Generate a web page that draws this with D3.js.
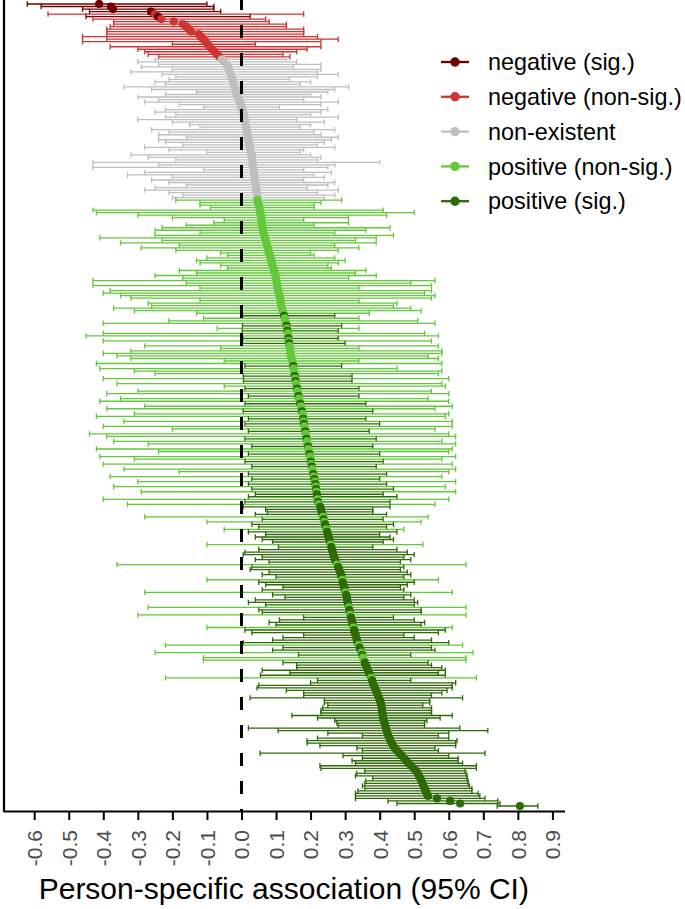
<!DOCTYPE html>
<html>
<head>
<meta charset="utf-8">
<script src="https://cdnjs.cloudflare.com/ajax/libs/d3/7.8.5/d3.min.js"></script>
<style>
  body { margin: 0; background: #fff; }
  svg { display: block; }
</style>
</head>
<body>
<div id="chart"></div>
<script>
const categories = ["negative (sig.)", "negative (non-sig.)", "non-existent", "positive (non-sig.)", "positive (sig.)"];
const xTicks = [-0.6, -0.5, -0.4, -0.3, -0.2, -0.1, 0.0, 0.1, 0.2, 0.3, 0.4, 0.5, 0.6, 0.7, 0.8, 0.9];

// one entry per person, sorted by estimate (top row first)
const estimate = [
  -.412,-.378,-.372,-.262,-.250,-.242,-.232,-.196,-.170,-.160,-.152,-.146,-.124,-.118,-.110,-.104,-.098,-.092,-.085,-.078,-.071,-.064,
  -.057,-.050,-.044,-.039,-.036,-.034,-.031,-.029,-.026,-.024,-.022,-.020,-.018,-.016,-.013,-.011,-.008,-.005,-.002,0.000,
  .003,.005,.007,.008,.010,.011,.012,.014,.015,.017,.018,.019,.020,.022,.023,.024,.026,.027,.029,.030,
  .031,.032,.033,.034,.035,.036,.037,.038,.039,.040,.041,.042,.043,.044,.045,.046,
  .046,.048,.050,.052,.053,.055,.056,.057,.058,.059,.060,.061,.062,.064,.066,.068,.070,.072,.074,.076,
  .078,.080,.082,.084,.086,.088,.090,.092,.094,.096,.098,.100,.101,.102,.103,.104,.106,.108,.110,.112,
  .113,.114,.115,.117,.119,.121,
  .123,.125,.127,.129,.131,.132,.133,.134,.135,.136,.137,.138,.139,.140,.141,.142,.143,.145,.147,.149,
  .150,.151,.152,.153,.154,.155,.157,
  .158,.160,.161,.162,.164,.165,.167,.169,.170,.172,.174,.175,.177,.178,.179,.180,.181,.182,.183,.185,
  .186,.187,.188,.190,.191,.193,.194,.195,.197,.199,.200,.201,.202,.204,.205,.207,.208,.209,.211,.213,
  .214,.215,.216,.217,.218,.219,.220,.222,.224,.228,.230,.232,.234,.236,.238,.240,.242,.244,.246,.248,
  .250,.252,.254,.256,.258,.260,.262,.264,.266,.268,.271,.274,.277,.280,.283,.286,.288,.290,.292,.293,
  .295,.297,.299,.301,.303,.305,.306,.307,.309,.311,.312,.314,.315,.317,.319,.321,.322,.324,.326,.328,
  .330,.332,.334,.336,.339,.342,.345,.348,.350,.352,.355,.357,.360,.363,.366,.369,.372,.375,.378,
  .380,.383,.386,.389,.392,.395,.398,.401,.403,.405,.406,.407,.408,.409,.410,.412,.414,.416,.418,.420,
  .422,.425,.428,.431,.435,.439,.444,.450,.457,.464,.471,.477,.484,.491,.498,.505,.510,.514,.518,.521,
  .524,.527,.530,.533,.536,.540,.566,.604,.633,.806
];
const lower = [
  -.62,-.58,-.46,-.44,-.56,-.45,-.43,-.37,-.37,-.38,-.39,-.39,-.39,-.46,-.39,-.46,-.20,-.38,-.30,-.28,-.27,-.24,
  -.25,-.30,-.24,-.29,-.20,-.32,-.23,-.19,-.21,-.25,-.22,-.34,-.26,-.13,-.22,-.30,-.24,-.28,-.18,-.11,
  -.22,-.25,-.19,-.22,-.30,-.20,-.15,-.12,-.26,-.21,-.24,-.16,-.24,-.22,-.17,-.28,-.21,-.10,-.32,-.27,
  -.19,-.43,-.24,-.43,-.11,-.28,-.33,-.20,-.26,-.21,-.16,-.25,-.28,-.21,-.17,-.20,
  -.19,-.12,-.12,-.09,-.43,-.42,-.30,-.20,-.05,-.08,-.16,-.23,-.25,-.12,-.25,-.41,-.23,-.35,-.18,-.29,
  -.19,-.06,-.04,-.10,-.13,-.12,-.06,-.04,-.18,-.13,-.25,-.17,-.43,-.16,-.43,-.12,-.38,-.40,-.35,-.32,
  -.12,-.27,-.26,-.37,-.31,-.13,
  .003,-.11,-.21,-.40,.003,-.07,.002,-.40,-.45,.004,-.40,.002,-.28,-.06,-.32,-.40,-.36,-.32,-.05,-.42,
  .01,-.41,-.31,-.25,.005,-.40,.006,
  -.36,-.05,.01,-.30,-.39,.02,-.35,-.41,.01,-.28,-.39,.005,-.31,-.42,.02,-.34,.01,-.40,-.20,.02,
  -.44,-.39,.01,-.37,-.27,.03,-.42,-.24,.02,-.41,-.31,.01,-.40,.03,-.34,-.18,.02,-.38,.03,-.30,
  .02,-.37,.03,-.29,.04,.02,-.40,.01,-.33,.005,.07,.075,.04,-.28,.06,-.10,.03,.05,-.05,.02,
  .07,.04,.06,.09,-.10,.107,.05,.01,.005,.06,.04,.08,-.36,.03,.025,.08,.06,.10,-.10,.05,
  .07,.12,.06,-.28,.09,.126,.04,.02,.07,-.27,.05,.06,-.30,.18,.11,.08,.10,-.10,.01,.03,
  .18,.12,.09,.005,-.22,.12,.09,-.25,.165,-.11,-.11,.12,.16,.16,.06,.14,.055,-.22,.22,
  .20,.05,.045,.13,.18,.18,.025,.24,.24,.25,.235,.23,.23,.146,.22,.27,.276,.28,.02,.106,
  .25,.35,.22,.19,.19,.227,.334,.35,.054,.294,.35,.32,.33,.227,.23,.357,.334,.33,.38,.36,
  .357,.35,.357,.337,.33,.33,.33,.424,.45,.74
];
const upper = [
  -.10,-.08,-.08,-.06,.18,.025,.07,.08,.13,.13,.18,.18,.18,.22,.28,.23,.04,.23,.19,.16,.12,.14,
  .13,.16,.23,.15,.23,.22,.28,.22,.14,.20,.17,.31,.27,.25,.20,.23,.18,.28,.23,.11,
  .25,.23,.20,.28,.16,.24,.20,.17,.27,.21,.23,.28,.26,.24,.22,.27,.18,.17,.20,.23,
  .22,.40,.27,.25,.18,.26,.21,.24,.18,.27,.25,.19,.28,.22,.27,.24,
  .29,.23,.21,.21,.41,.50,.42,.31,.18,.31,.21,.43,.36,.27,.44,.39,.33,.39,.27,.34,
  .28,.20,.21,.27,.30,.28,.25,.26,.36,.33,.39,.31,.56,.49,.55,.34,.55,.53,.56,.55,
  .34,.45,.44,.49,.52,.37,
  .27,.34,.51,.56,.29,.34,.28,.53,.57,.28,.55,.30,.57,.34,.58,.58,.54,.57,.34,.58,
  .29,.45,.58,.57,.32,.60,.32,
  .58,.59,.34,.55,.60,.34,.54,.60,.36,.61,.56,.38,.60,.59,.36,.61,.40,.61,.56,.37,
  .60,.62,.39,.58,.62,.38,.61,.60,.40,.62,.58,.41,.61,.39,.62,.60,.42,.58,.40,.62,
  .42,.59,.44,.62,.41,.45,.60,.43,.56,.43,.38,.38,.42,.54,.41,.52,.44,.42,.47,.45,
  .40,.43,.44,.41,.525,.38,.45,.48,.50,.47,.49,.46,.65,.47,.46,.48,.49,.47,.57,.50,
  .48,.46,.47,.61,.49,.47,.50,.51,.50,.65,.52,.52,.65,.44,.50,.53,.52,.61,.59,.57,
  .47,.50,.55,.60,.64,.55,.56,.67,.49,.65,.65,.54,.55,.58,.59,.57,.59,.68,.49,
  .62,.61,.61,.595,.58,.55,.64,.545,.545,.525,.55,.55,.55,.61,.575,.537,.53,.53,.632,.713,
  .60,.57,.60,.624,.62,.62,.56,.57,.705,.60,.627,.627,.64,.68,.68,.647,.65,.653,.653,.656,
  .656,.66,.667,.667,.685,.69,.705,.742,.748,.858
];
// index into categories
const group = [
  0,0,0,0,1,0,1,1,1,1,1,1,1,1,1,1,1,1,1,1,1,1,
  2,2,2,2,2,2,2,2,2,2,2,2,2,2,2,2,2,2,2,2,
  2,2,2,2,2,2,2,2,2,2,2,2,2,2,2,2,2,2,2,2,
  2,2,2,2,2,2,2,2,2,2,2,2,2,2,2,2,
  3,3,3,3,3,3,3,3,3,3,3,3,3,3,3,3,3,3,3,3,
  3,3,3,3,3,3,3,3,3,3,3,3,3,3,3,3,3,3,3,3,
  3,3,3,3,3,3,
  4,3,3,3,4,3,4,3,3,4,3,4,3,3,3,3,3,3,3,3,
  4,3,3,3,4,3,4,
  3,3,4,3,3,4,3,3,4,3,3,4,3,3,4,3,4,3,3,4,
  3,3,4,3,3,4,3,3,4,3,3,4,3,4,3,3,4,3,4,3,
  4,3,4,3,4,4,3,4,3,4,4,4,4,3,4,3,4,4,3,4,
  4,4,4,4,3,4,4,4,4,4,4,4,3,4,4,4,4,4,3,4,
  4,4,4,3,4,4,4,4,4,3,4,4,3,4,4,4,4,3,4,4,
  4,4,4,4,3,4,4,3,4,3,3,4,4,4,4,4,4,3,4,
  4,4,4,4,4,4,4,4,4,4,4,4,4,4,4,4,4,4,4,4,
  4,4,4,4,4,4,4,4,4,4,4,4,4,4,4,4,4,4,4,4,
  4,4,4,4,4,4,4,4,4,4
];

const width = 685;
const height = 909;
const FONT = '"Liberation Sans", Arial, Helvetica, sans-serif';
const colors = ["#700000", "#d03333", "#bfbfbf", "#63c83a", "#2e6a06"];

const rows = estimate.map((e, i) => ({i: i, est: e, lo: lower[i], hi: upper[i], g: group[i]}));

const x = d3.scaleLinear().domain([-0.69, 0.935]).range([3.1, 564.5]);
const y = d3.scalePoint().domain(d3.range(rows.length)).range([4, 806]);

const svg = d3.select('#chart').append('svg')
  .attr('width', width).attr('height', height)
  .style('font-family', FONT);

// error bars
const cap = 2.7;
svg.append('g')
  .attr('fill', 'none')
  .attr('stroke-width', 1.3)
  .selectAll('path').data(rows).join('path')
  .attr('stroke', d => colors[d.g])
  .attr('d', d => {
    const yy = y(d.i), a = x(d.lo), b = x(d.hi);
    return `M${a},${yy}H${b}M${a},${yy - cap}V${yy + cap}M${b},${yy - cap}V${yy + cap}`;
  });

// point estimates
svg.append('g')
  .selectAll('circle').data(rows).join('circle')
  .attr('cx', d => x(d.est))
  .attr('cy', d => y(d.i))
  .attr('r', 4.1)
  .attr('fill', d => colors[d.g]);

// zero line
svg.append('line')
  .attr('x1', x(0)).attr('x2', x(0))
  .attr('y1', -3).attr('y2', 811)
  .attr('stroke', '#000')
  .attr('stroke-width', 3)
  .attr('stroke-dasharray', '13,15');

// y axis line (no ticks)
svg.append('line')
  .attr('x1', 4).attr('x2', 4)
  .attr('y1', 0).attr('y2', 812)
  .attr('stroke', '#000')
  .attr('stroke-width', 2.2);

// x axis
const xAxis = d3.axisBottom(x)
  .tickValues(xTicks)
  .tickSize(9)
  .tickSizeOuter(0)
  .tickFormat(d => d.toFixed(1));

const gx = svg.append('g')
  .attr('transform', 'translate(0,811)')
  .call(xAxis)
  .attr('font-family', FONT)
  .attr('font-size', 21);
gx.select('.domain').attr('stroke', '#000').attr('stroke-width', 2.2);
gx.selectAll('.tick line').attr('stroke', '#000').attr('stroke-width', 2);
gx.selectAll('.tick text')
  .attr('transform', 'rotate(-90)')
  .attr('text-anchor', 'end')
  .attr('x', -19)
  .attr('y', 0)
  .attr('dy', '0.35em')
  .attr('fill', '#4d4d4d');

svg.append('text')
  .attr('x', (x.range()[0] + x.range()[1]) / 2)
  .attr('y', 899)
  .attr('text-anchor', 'middle')
  .attr('font-size', 30)
  .attr('fill', '#000')
  .text('Person-specific association (95% CI)');

// legend
const legend = svg.append('g').attr('transform', 'translate(441,62)');
const item = legend.selectAll('g').data(categories).join('g')
  .attr('transform', (d, i) => `translate(0,${i * 34.8})`);
item.append('line')
  .attr('x1', 0).attr('x2', 28)
  .attr('stroke', (d, i) => colors[i])
  .attr('stroke-width', 2.3);
item.append('circle')
  .attr('cx', 14).attr('r', 4.7)
  .attr('fill', (d, i) => colors[i]);
item.append('text')
  .attr('x', 47)
  .attr('dy', '0.35em')
  .attr('font-size', 23.4)
  .attr('fill', '#000')
  .text(d => d);
</script>
</body>
</html>
